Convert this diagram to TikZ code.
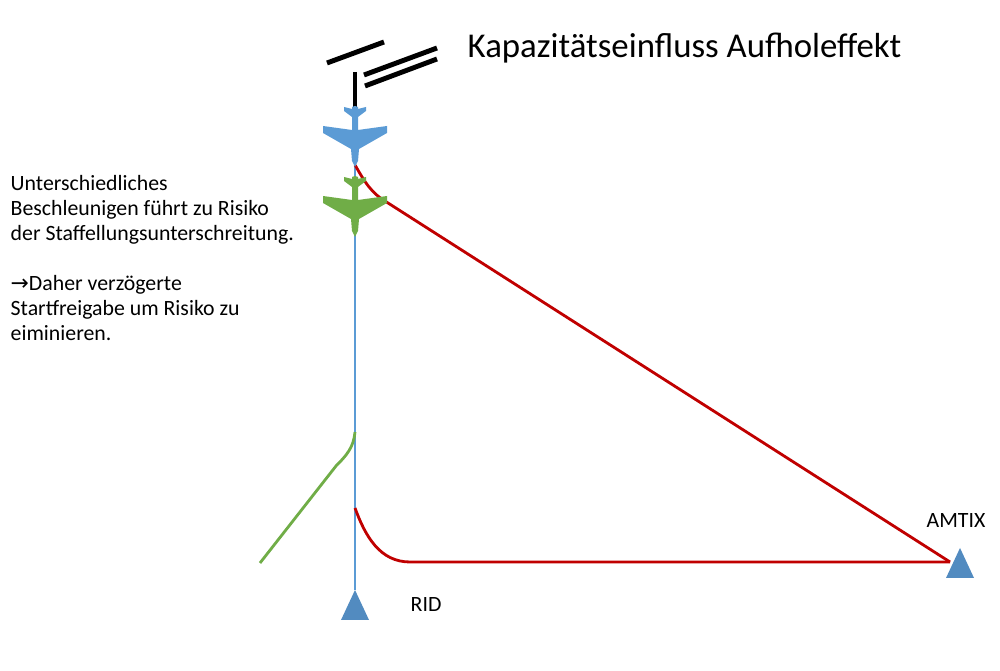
\documentclass[tikz,border=0pt]{standalone}
\usepackage{fontspec}
\setmainfont{Carlito}
\definecolor{rwblue}{HTML}{5B9BD5}
\definecolor{rwgreen}{HTML}{70AD47}
\definecolor{rwred}{HTML}{C00000}
\tikzset{
  runway/.style = {black, line width = 1.4pt},
  track/.style = {line width = 0.8pt},
  fix/.style = {fill = rwblue!90!black, draw = none},
  label/.style = {anchor = west, font = \fontsize{6.2}{7.1}\selectfont, align = left, inner sep = 0pt}
}
% plane outline in pixel units, y downwards, nose down
\newcommand{\plane}[2]{%
  \begin{scope}[shift = {#1}, x = 0.01cm, y = -0.01cm]
    \fill[#2] (0,-29) -- (3,-28) -- (3,-26) -- (11,-28) -- (11,-24) -- (3,-18)
      -- (3,-5) -- (32,-9) -- (32,-2) -- (4,14) -- (3,26) -- (0,32) -- (-3,26) -- (-4,14)
      -- (-32,-2) -- (-32,-9) -- (-3,-5) -- (-3,-18) -- (-11,-24) -- (-11,-28) -- (-3,-26) -- (-3,-28) -- cycle;
  \end{scope}}
\begin{document}
\begin{tikzpicture}[x = 0.01cm, y = -0.01cm]
    \useasboundingbox (0,0) rectangle (1000,671);

    % runways
    \draw[runway] (327,63) -- (384,42);
    \draw[runway] (364,75) -- (437,48);
    \draw[runway] (365,86) -- (437,59);
    \draw[runway] (355,72) -- (355,110);

    \coordinate (top) at (355,108);
    \coordinate (rid) at (355,590);
    \coordinate (amtix) at (960,548);

    % tracks
    \draw[track, rwblue] (top) -- (rid);
    \draw[track, rwred] (355,165) to [out = -60, in = 150] (388,203) -- (950,562);
    \draw[track, rwred] (355,508) to [out = -70, in = 180] (410,562) -- (950,562);
    \draw[track, rwgreen] (355,432) to [out = -95, in = 45] (336,466) -- (260,563);

    % fixes
    \fill[fix] (rid) -- (369,620) -- (341,620) -- cycle;
    \fill[fix] (amtix) -- (974,578) -- (946,578) -- cycle;

    % planes
    \plane{(355,135)}{rwblue}
    \plane{(355,205)}{rwgreen}

    \node[label] (ridlabel) at (410,605) {RID};
    \node[label] (amtixlabel) at (926,521) {AMTIX};
    \node[anchor = west, font = \fontsize{9.9}{12}\selectfont, inner sep = 0pt] (title) at (467,48) {Kapazitätseinfluss Aufholeffekt};
    \node[label, anchor = north west] (note) at (10,175) {Unterschiedliches\\Beschleunigen führt zu Risiko\\der Staffellungsunterschreitung.\\[7.1pt]{\fontspec{DejaVu Sans}→}Daher verzögerte\\Startfreigabe um Risiko zu\\eiminieren.};
\end{tikzpicture}
\end{document}
